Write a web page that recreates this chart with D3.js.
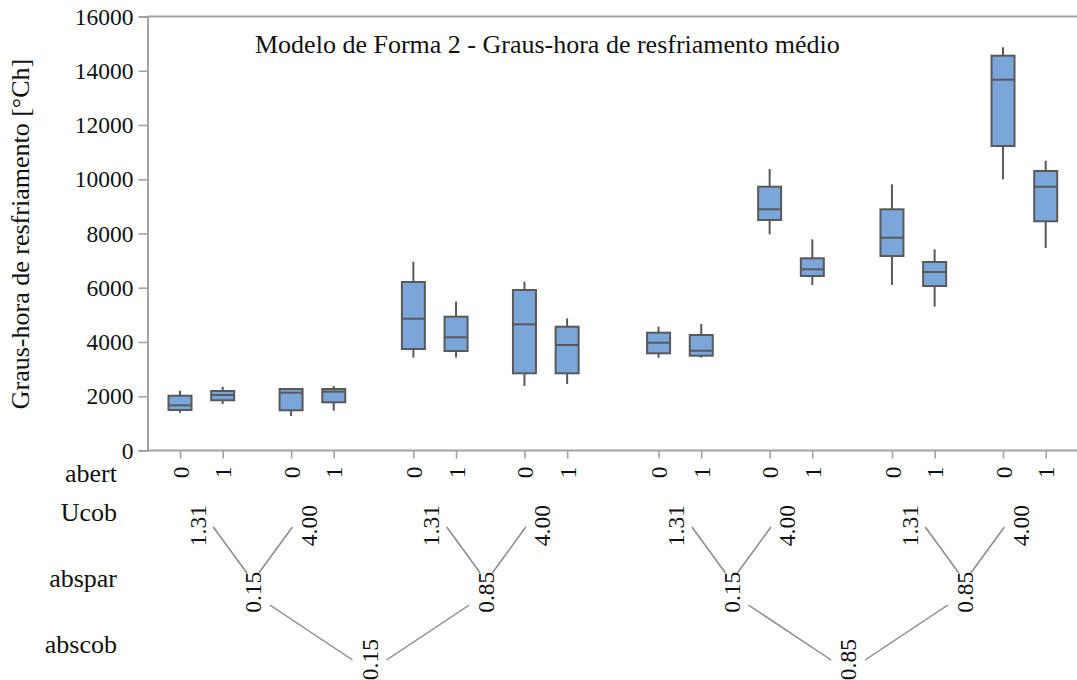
<!DOCTYPE html>
<html>
<head>
<meta charset="utf-8">
<script src="https://cdn.jsdelivr.net/npm/d3@7"></script>
<style>
  html, body { margin: 0; padding: 0; background: #fff; }
  svg { display: block; }
</style>
</head>
<body>
<svg id="chart" width="1077" height="680"></svg>
<script>
// Factor levels (outermost to innermost)
const abscobLevels = ["0.15", "0.85"];
const absparLevels = ["0.15", "0.85"];
const ucobLevels = ["1.31", "4.00"];
const abertLevels = ["0", "1"];

// Box summaries per cell, in nesting order abscob > abspar > Ucob > abert
const whiskerLow  = [1394, 1714, 1272, 1467, 3421, 3421, 2378, 2452, 3421, 3421, 7970, 6101, 6101, 5301, 9998, 7465];
const q1          = [1493, 1851, 1482, 1777, 3742, 3668, 2846, 2846, 3583, 3495, 8498, 6433, 7170, 6064, 11226, 8450];
const median      = [1666, 2046, 2131, 2168, 4859, 4173, 4652, 3889, 3974, 3679, 8892, 6680, 7845, 6581, 13670, 9725];
const q3          = [2020, 2193, 2267, 2267, 6212, 4933, 5917, 4564, 4343, 4258, 9725, 7086, 8892, 6949, 14555, 10304];
const whiskerHigh = [2205, 2352, 2267, 2378, 6960, 5486, 6223, 4873, 4564, 4664, 10378, 7786, 9814, 7417, 14864, 10684];

const yTicks = [0, 2000, 4000, 6000, 8000, 10000, 12000, 14000, 16000];
const rowNames = ["abert", "Ucob", "abspar", "abscob"];
const titleText = "Modelo de Forma 2 - Graus-hora de resfriamento médio";
const yTitle = "Graus-hora de resfriamento [°Ch]";

// ---- layout ----
const svg = d3.select("#chart");
const FONT = "'Liberation Serif', 'Times New Roman', serif";
const plotLeft = 147.5, plotRight = 1077, plotTop = 16.5, plotBottom = 450.5;
const axisColor = "#a3a3a3";
const boxStroke = "#595959";
const boxFill = "#7ba6da";
const boxW = 23;
const numFont = 23.5, wordFont = 26;

// spacing between neighbouring cells, in cell units
const gapSame = 1, gapUcob = 1.603, gapAbspar = 1.866, gapAbscob = 2.143;

// build the nested cells
const cells = [];
let slot = 0, prev = null, k = 0;
abscobLevels.forEach((c, ci) => absparLevels.forEach((p, pi) => ucobLevels.forEach((u, ui) => abertLevels.forEach((a, ai) => {
  if (prev) {
    if (prev.ci !== ci) slot += gapAbscob;
    else if (prev.pi !== pi) slot += gapAbspar;
    else if (prev.ui !== ui) slot += gapUcob;
    else slot += gapSame;
  }
  const cell = { ci, pi, ui, ai, abert: a, slot,
    lo: whiskerLow[k], q1: q1[k], med: median[k], q3: q3[k], hi: whiskerHigh[k] };
  cells.push(cell); prev = cell; k++;
}))));

const x = d3.scaleLinear().domain([0, slot]).range([180, 1045.7]);
const y = d3.scaleLinear().domain([0, 16000]).range([plotBottom, plotTop]);

function styleText(sel, size) {
  return sel.style("font-family", FONT).style("font-size", size + "px").style("fill", "#111");
}

// ---- frame and axes ----
svg.append("line").attr("x1", plotLeft).attr("x2", plotRight).attr("y1", plotTop).attr("y2", plotTop)
  .attr("stroke", axisColor).attr("stroke-width", 2);

const yAxis = svg.append("g").attr("transform", `translate(${plotLeft},0)`)
  .call(d3.axisLeft(y).tickValues(yTicks).tickFormat(d3.format("d")).tickSize(9).tickPadding(5));
yAxis.select(".domain").attr("stroke", axisColor).attr("stroke-width", 2);
yAxis.selectAll(".tick line").attr("stroke", axisColor).attr("stroke-width", 1.6);
styleText(yAxis.selectAll(".tick text"), numFont);

const xAxis = svg.append("g").attr("transform", `translate(0,${plotBottom})`)
  .call(d3.axisBottom(x).tickValues(cells.map(d => d.slot)).tickFormat((d, i) => cells[i].abert).tickSize(8).tickPadding(0));
xAxis.select(".domain").attr("d", `M${plotLeft},0H${plotRight}`).attr("stroke", axisColor).attr("stroke-width", 2);
xAxis.selectAll(".tick line").attr("stroke", axisColor).attr("stroke-width", 1.6);
styleText(xAxis.selectAll(".tick text"), numFont)
  .attr("text-anchor", "end").attr("transform", "rotate(-90)")
  .attr("x", -16).attr("y", 0).attr("dy", "0.35em");

// ---- boxes ----
const g = svg.append("g");
const boxes = g.selectAll("g.box").data(cells).join("g").attr("class", "box");
boxes.append("line")
  .attr("x1", d => x(d.slot)).attr("x2", d => x(d.slot))
  .attr("y1", d => y(d.hi)).attr("y2", d => y(d.q3))
  .attr("stroke", boxStroke).attr("stroke-width", 2);
boxes.append("line")
  .attr("x1", d => x(d.slot)).attr("x2", d => x(d.slot))
  .attr("y1", d => y(d.q1)).attr("y2", d => y(d.lo))
  .attr("stroke", boxStroke).attr("stroke-width", 2);
boxes.append("rect")
  .attr("x", d => x(d.slot) - boxW / 2).attr("width", boxW)
  .attr("y", d => y(d.q3)).attr("height", d => y(d.q1) - y(d.q3))
  .attr("fill", boxFill).attr("stroke", boxStroke).attr("stroke-width", 2);
boxes.append("line")
  .attr("x1", d => x(d.slot) - boxW / 2).attr("x2", d => x(d.slot) + boxW / 2)
  .attr("y1", d => y(d.med)).attr("y2", d => y(d.med))
  .attr("stroke", boxStroke).attr("stroke-width", 2);

// ---- title ----
styleText(svg.append("text"), 26).attr("x", 255).attr("y", 53).text(titleText);

// ---- y title ----
styleText(svg.append("text"), wordFont).attr("transform", "translate(29,234) rotate(-90)")
  .attr("text-anchor", "middle").text(yTitle);

// ---- row names for the nested x labels ----
const rowBase = [482.3, 520.7, 586.7, 653.3];
styleText(svg.selectAll("text.rowname").data(rowNames).join("text").attr("class", "rowname"), wordFont)
  .attr("x", 117).attr("y", (d, i) => rowBase[i])
  .attr("text-anchor", "end").text(d => d);

// ---- hierarchical group labels ----
const ucobGroups = d3.groups(cells, d => d.ci, d => d.pi, d => d.ui);
const ucobNodes = [], absparNodes = [], abscobNodes = [];
ucobGroups.forEach(([ci, byP]) => {
  const pNodes = [];
  byP.forEach(([pi, byU]) => {
    const uNodes = byU.map(([ui, cs]) => {
      const n = { label: ucobLevels[ui], cx: d3.mean(cs, c => x(c.slot)) };
      ucobNodes.push(n); return n;
    });
    const pn = { label: absparLevels[pi], cx: d3.mean(uNodes, n => n.cx), kids: uNodes };
    absparNodes.push(pn); pNodes.push(pn);
  });
  abscobNodes.push({ label: abscobLevels[ci], cx: d3.mean(pNodes, n => n.cx), kids: pNodes });
});

function drawLabels(nodes, top) {
  styleText(svg.append("g").selectAll("text").data(nodes).join("text"), numFont)
    .attr("transform", d => `translate(${d.cx},${top}) rotate(-90)`)
    .attr("text-anchor", "end").attr("dy", "0.18em")
    .text(d => d.label);
}
drawLabels(ucobNodes, 505);
drawLabels(absparNodes, 571.7);
drawLabels(abscobNodes, 639);

// connectors from each child label to its parent label
const vis = -4;
function connect(parents, y1, y2, ds, de) {
  const segs = [];
  parents.forEach(p => p.kids.forEach(c => {
    const dir = c.cx < p.cx ? 1 : -1;
    segs.push({ x1: c.cx + vis + dir * ds, y1, x2: p.cx + vis - dir * de, y2 });
  }));
  svg.append("g").selectAll("line").data(segs).join("line")
    .attr("x1", d => d.x1).attr("y1", d => d.y1).attr("x2", d => d.x2).attr("y2", d => d.y2)
    .attr("stroke", "#8a8a8a").attr("stroke-width", 1.5);
}
connect(absparNodes, 527, 573, 16, 6);
connect(abscobNodes, 605, 660, 17, 17);
</script>
</body>
</html>
